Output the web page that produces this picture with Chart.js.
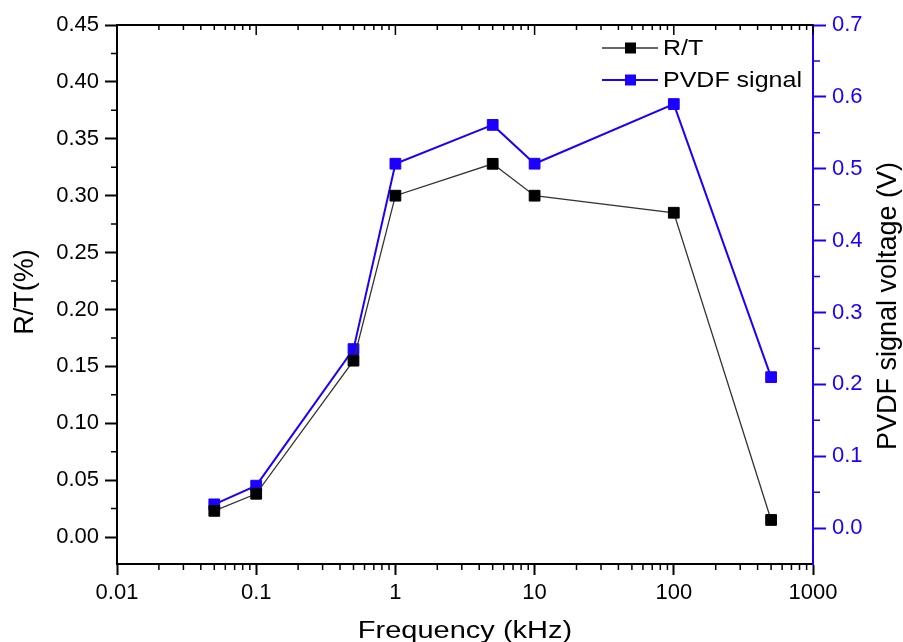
<!DOCTYPE html>
<html>
<head>
<meta charset="utf-8">
<script src="https://cdn.jsdelivr.net/npm/chart.js@4.4.1/dist/chart.umd.min.js"></script>
<style>
html, body { margin: 0; padding: 0; background: #fff; }
</style>
</head>
<body>
<canvas id="grafica" width="903" height="642"></canvas>
<script>
const freqs = [0.05, 0.1, 0.5, 1, 5, 10, 100, 500];
const rtValues = [0.023, 0.038, 0.155, 0.300, 0.328, 0.300, 0.285, 0.015];
const pvdfValues = [0.033, 0.059, 0.249, 0.507, 0.561, 0.507, 0.590, 0.210];
const seriesNames = ['R/T', 'PVDF signal'];
const xTicks = [0.01, 0.1, 1, 10, 100, 1000];
const rtTicks = [0, 0.05, 0.10, 0.15, 0.20, 0.25, 0.30, 0.35, 0.40, 0.45];
const pvdfTicks = [0, 0.1, 0.2, 0.3, 0.4, 0.5, 0.6, 0.7];

const BLUE = '#1c00ff';
const FONT = "'Liberation Sans', Arial, sans-serif";

const graph = document.querySelector('#grafica');

// minor ticks, frame top, legend and axis titles
const decor = {
	id: 'decor',
	afterDraw(chart) {
		const ctx = chart.ctx;
		const a = chart.chartArea;
		const sx = chart.scales.x, yl = chart.scales.y, yr = chart.scales.y1;
		ctx.save();
		ctx.strokeStyle = '#000';
		ctx.lineWidth = 2;
		ctx.beginPath();
		ctx.moveTo(a.left - 1, a.top);
		ctx.lineTo(a.right, a.top);
		ctx.stroke();

		ctx.lineWidth = 1.5;
		ctx.beginPath();
		for (let i = 0; i < xTicks.length - 1; i++) {
			for (let m = 2; m <= 9; m++) {
				const px = sx.getPixelForValue(xTicks[i] * m);
				ctx.moveTo(px, a.bottom);
				ctx.lineTo(px, a.bottom + 6);
				ctx.moveTo(px, a.top);
				ctx.lineTo(px, a.top + 5);
			}
		}
		xTicks.forEach(v => {
			const px = sx.getPixelForValue(v);
			ctx.moveTo(px, a.top);
			ctx.lineTo(px, a.top + 10);
		});
		for (let i = 0; i < rtTicks.length - 1; i++) {
			const py = yl.getPixelForValue((rtTicks[i] + rtTicks[i + 1]) / 2);
			ctx.moveTo(a.left, py);
			ctx.lineTo(a.left - 6, py);
		}
		ctx.stroke();

		ctx.strokeStyle = BLUE;
		ctx.beginPath();
		for (let i = 0; i < pvdfTicks.length - 1; i++) {
			const py = yr.getPixelForValue((pvdfTicks[i] + pvdfTicks[i + 1]) / 2);
			ctx.moveTo(a.right, py);
			ctx.lineTo(a.right + 7, py);
		}
		ctx.stroke();

		// legend
		chart.data.datasets.forEach((ds, i) => {
			const y = 48 + i * 32;
			ctx.strokeStyle = ds.borderColor;
			ctx.lineWidth = ds.borderWidth;
			ctx.beginPath();
			ctx.moveTo(602, y);
			ctx.lineTo(658, y);
			ctx.stroke();
			ctx.fillStyle = ds.pointBackgroundColor;
			ctx.fillRect(625, y - 5.5, 11, 11);
			ctx.save();
			ctx.translate(663, y);
			ctx.scale(1, 0.85);
			ctx.fillStyle = '#000';
			ctx.font = '25px ' + FONT;
			ctx.textBaseline = 'middle';
			ctx.textAlign = 'left';
			ctx.fillText(ds.label, 0, 1);
			ctx.restore();
		});

		// titles
		ctx.fillStyle = '#000';
		ctx.save();
		ctx.translate((a.left + a.right) / 2, 638);
		ctx.scale(1, 0.85);
		ctx.font = '29px ' + FONT;
		ctx.textAlign = 'center';
		ctx.textBaseline = 'alphabetic';
		ctx.fillText('Frequency (kHz)', 0, 0);
		ctx.restore();

		ctx.save();
		ctx.translate(33, 292);
		ctx.rotate(-Math.PI / 2);
		ctx.font = '27px ' + FONT;
		ctx.textAlign = 'center';
		ctx.textBaseline = 'alphabetic';
		ctx.fillText('R/T(%)', 0, 0);
		ctx.restore();

		ctx.save();
		ctx.translate(896, 306);
		ctx.rotate(-Math.PI / 2);
		ctx.font = '27px ' + FONT;
		ctx.textAlign = 'center';
		ctx.textBaseline = 'alphabetic';
		ctx.fillText('PVDF signal voltage (V)', 0, 0);
		ctx.restore();

		ctx.restore();
	}
};

const data = {
	datasets: [{
		label: seriesNames[0],
		data: freqs.map((f, i) => ({ x: f, y: rtValues[i] })),
		yAxisID: 'y',
		borderColor: '#333',
		borderWidth: 1.3,
		pointStyle: 'rect',
		pointRadius: 7.6,
		pointBackgroundColor: '#000',
		pointBorderColor: '#000',
		pointBorderWidth: 1
	}, {
		label: seriesNames[1],
		data: freqs.map((f, i) => ({ x: f, y: pvdfValues[i] })),
		yAxisID: 'y1',
		borderColor: BLUE,
		borderWidth: 2,
		pointStyle: 'rect',
		pointRadius: 7.6,
		pointBackgroundColor: BLUE,
		pointBorderColor: BLUE,
		pointBorderWidth: 1
	}]
};

const tickFont = { family: FONT, size: 22 };

const config = {
	type: 'line',
	data: data,
	options: {
		responsive: false,
		animation: false,
		devicePixelRatio: 1,
		layout: { padding: { top: 25, left: 0, right: 0, bottom: 0 } },
		plugins: { legend: { display: false }, tooltip: { enabled: false } },
		scales: {
			x: {
				type: 'logarithmic',
				position: 'bottom',
				min: 0.01,
				max: 1000,
				afterBuildTicks: s => { s.ticks = xTicks.map(v => ({ value: v })); },
				afterFit: s => { s.height = 78; },
				ticks: { font: tickFont, color: '#000', padding: 5, maxRotation: 0, autoSkip: false,
					callback: v => String(v) },
				grid: { drawOnChartArea: false, drawTicks: true, tickLength: 11, tickWidth: 2, tickColor: '#000' },
				border: { display: true, color: '#000', width: 2 }
			},
			y: {
				type: 'linear',
				position: 'left',
				min: -0.0237,
				max: 0.45,
				afterBuildTicks: s => { s.ticks = rtTicks.map(v => ({ value: v })); },
				afterFit: s => { s.width = 117; },
				ticks: { font: tickFont, color: '#000', padding: 6, autoSkip: false,
					callback: v => Number(v).toFixed(2) },
				grid: { drawOnChartArea: false, drawTicks: true, tickLength: 12, tickWidth: 2, tickColor: '#000' },
				border: { display: true, color: '#000', width: 2 }
			},
			y1: {
				type: 'linear',
				position: 'right',
				min: -0.05,
				max: 0.7,
				afterBuildTicks: s => { s.ticks = pvdfTicks.map(v => ({ value: v })); },
				afterFit: s => { s.width = 90; },
				ticks: { font: tickFont, color: BLUE, padding: 6, autoSkip: false,
					callback: v => Number(v).toFixed(1) },
				grid: { drawOnChartArea: false, drawTicks: true, tickLength: 13, tickWidth: 2, tickColor: BLUE },
				border: { display: true, color: BLUE, width: 2 }
			}
		}
	},
	plugins: [decor]
};

new Chart(graph, config);
</script>
</body>
</html>
